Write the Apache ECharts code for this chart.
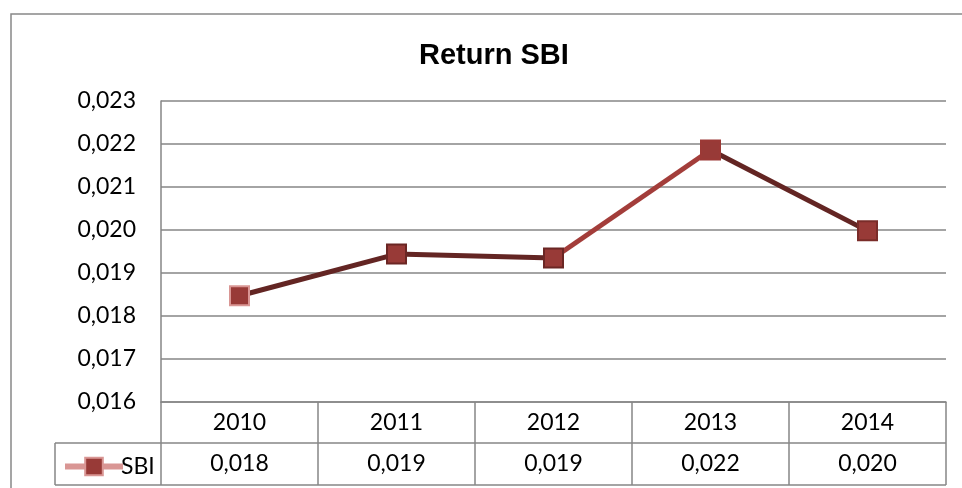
<!DOCTYPE html>
<html>
<head>
<meta charset="utf-8">
<script src="https://cdn.jsdelivr.net/npm/echarts@6/dist/echarts.min.js"></script>
<style>
html, body { margin: 0; padding: 0; background: #fff; }
#chart { width: 962px; height: 488px; }
</style>
</head>
<body>
<div id="chart"></div>
<script>
// data
var years = ['2010', '2011', '2012', '2013', '2014'];
var sbiReturn = [0.01847, 0.01944, 0.01935, 0.02186, 0.01998];
var yTicks = { min: 0.016, max: 0.023, step: 0.001 };

// styles
var segColors = ['#632523', '#632523', '#a33d3a', '#632523'];
var markerBorder = ['#d99694', '#6b2624', '#6b2624', '#9b3936', '#7a2c29'];
var gridColor = '#868686';
var font = 'Lato';
var fs = 23;

function fmt(v) {
    return v.toFixed(3).replace('.', ',');
}

// one series per segment so each piece of the line gets its own colour
function segment(i) {
    return sbiReturn.map(function (v, k) {
        return (k === i || k === i + 1) ? v : null;
    });
}

var series = [];
for (var i = 0; i < sbiReturn.length - 1; i++) {
    series.push({
        name: 'seg' + i,
        type: 'line',
        data: segment(i),
        symbol: 'none',
        lineStyle: { color: segColors[i], width: 5 },
        z: 2,
        silent: true
    });
}
series.push({
    name: 'SBI',
    type: 'line',
    data: sbiReturn.map(function (v, k) {
        return {
            value: v,
            itemStyle: { color: '#983a37', borderColor: markerBorder[k], borderWidth: 2 }
        };
    }),
    symbol: 'rect',
    symbolSize: 19,
    lineStyle: { width: 0, opacity: 0 },
    z: 5
});

var myChart = echarts.init(document.getElementById('chart'));
var option = {
    animation: false,
    backgroundColor: '#fff',
    title: {
        text: 'Return SBI',
        left: 414,
        top: 36,
        textStyle: { fontFamily: 'Liberation Sans', fontWeight: 'bold', fontSize: 29, color: '#000' }
    },
    legend: {
        left: 57,
        top: 450,
        itemWidth: 58,
        itemHeight: 22,
        itemGap: 4,
        textStyle: { fontFamily: font, fontSize: fs, color: '#000', padding: [0, 0, 0, -7] },
        data: [{
            name: 'SBI',
            lineStyle: { color: '#d99694', width: 6, opacity: 1 },
            itemStyle: { color: '#983a37', borderColor: '#d99694', borderWidth: 2 }
        }]
    },
    grid: { left: 161, right: 16, top: 101, bottom: 86 },
    xAxis: [{
        type: 'category',
        data: years,
        boundaryGap: true,
        axisLine: { lineStyle: { color: gridColor, width: 1.5 } },
        axisTick: { show: true, length: 83, lineStyle: { color: gridColor, width: 1.5 } },
        axisLabel: { fontFamily: font, fontSize: fs, color: '#000', margin: 9 }
    }, {
        type: 'category',
        position: 'bottom',
        offset: 41,
        data: sbiReturn.map(fmt),
        boundaryGap: true,
        axisLine: { show: false },
        axisTick: { show: false },
        axisLabel: { fontFamily: font, fontSize: fs, color: '#000', margin: 9 }
    }],
    yAxis: {
        type: 'value',
        min: yTicks.min,
        max: yTicks.max,
        interval: yTicks.step,
        axisLine: { show: true, lineStyle: { color: gridColor, width: 1.5 } },
        axisTick: { show: false },
        splitLine: { lineStyle: { color: gridColor, width: 1.5 } },
        axisLabel: {
            fontFamily: font, fontSize: fs, color: '#000', margin: 25,
            formatter: function (v) { return fmt(v); }
        }
    },
    graphic: [
        // outer chart border
        { type: 'rect', shape: { x: 11, y: 14, width: 1000, height: 600 },
          style: { fill: null, stroke: '#888', lineWidth: 1.5 }, silent: true },
        // data table rows
        { type: 'line', shape: { x1: 55, y1: 443, x2: 946, y2: 443 },
          style: { stroke: gridColor, lineWidth: 1.5 } },
        { type: 'line', shape: { x1: 55, y1: 485, x2: 946, y2: 485 },
          style: { stroke: gridColor, lineWidth: 1.5 } },
        { type: 'line', shape: { x1: 55, y1: 443, x2: 55, y2: 485 },
          style: { stroke: gridColor, lineWidth: 1.5 } }
    ],
    series: series
};
myChart.setOption(option);
</script>
</body>
</html>
